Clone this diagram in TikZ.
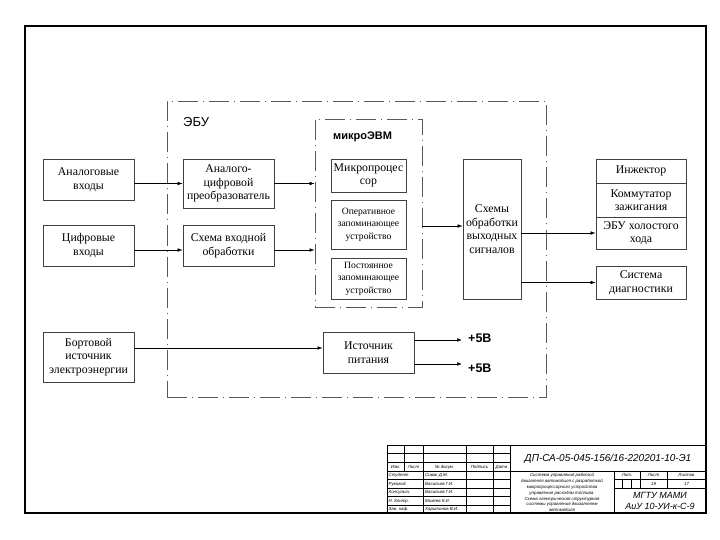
\documentclass[tikz,border=0pt]{standalone}
\usepackage{fontspec}
\setmainfont{Liberation Serif}
\setsansfont{Liberation Sans}
\usetikzlibrary{arrows.meta}
\begin{document}
\begin{tikzpicture}[x=1pt,y=-1pt,
  box/.style={draw=black!75, line width=0.8pt, align=center, inner sep=0pt,
    font=\fontsize{11.8}{13.5}\selectfont},
  smallbox/.style={box, font=\fontsize{9.6}{12.5}\selectfont},
  dashbox/.style={draw=black!65, line width=0.8pt, inner sep=0pt,
    dash pattern=on 20pt off 5pt on 1pt off 5pt},
  arr/.style={line width=0.6pt, -{Latex[length=5pt,width=3.6pt]}},
  tiny/.style={font=\fontsize{4.4}{5.6}\selectfont\sffamily\itshape, inner sep=0pt},
  tl/.style={line width=0.7pt}
]
\useasboundingbox (0,0) rectangle (720,540);
% page frame
\draw[line width=1.1pt] (25,26) rectangle (706,513);

% dashed containers
\node[dashbox, minimum width=379pt, minimum height=296pt] (ebu) at (356.5,249.5) {};
\node[dashbox, minimum width=107pt, minimum height=188pt] (mevm) at (368.5,213) {};
\node[font=\fontsize{13}{15}\sffamily, anchor=west, inner sep=0pt] (ebulbl) at (183,122) {ЭБУ};
\node[font=\fontsize{11}{13}\sffamily\bfseries, anchor=west, inner sep=0pt] (mevmlbl) at (333,137) {микроЭВМ};

% blocks
\node[box, minimum width=91pt, minimum height=41pt] (ain) at (88.5,179.5) {Аналоговые\\входы};
\node[box, minimum width=91pt, minimum height=41pt] (din) at (88.5,245.5) {Цифровые\\входы};
\node[box, minimum width=91pt, minimum height=50pt] (bort) at (88.5,357) {Бортовой\\источник\\электроэнергии};
\node[box, minimum width=91pt, minimum height=49pt] (adc) at (228.5,183.5) {Аналого-\\цифровой\\преобразователь};
\node[box, minimum width=91pt, minimum height=41pt] (inp) at (228.5,245.5) {Схема входной\\обработки};
\node[box, minimum width=75pt, minimum height=33pt] (cpu) at (368.5,175.5) {Микропроцес\\сор};
\node[smallbox, minimum width=75pt, minimum height=49pt] (ram) at (368.5,224.5) {Оперативное\\запоминающее\\устройство};
\node[smallbox, minimum width=75pt, minimum height=41pt] (rom) at (368.5,278.5) {Постоянное\\запоминающее\\устройство};
\node[box, minimum width=58pt, minimum height=140pt] (out) at (492,229) {Схемы\\обработки\\выходных\\сигналов};
\node[box, minimum width=91pt, minimum height=41pt] (pwr) at (368.5,352.5) {Источник\\питания};
\node[box, minimum width=90pt, minimum height=24pt] (inj) at (641,171) {Инжектор};
\node[box, minimum width=90pt, minimum height=34pt] (kom) at (641,200) {Коммутатор\\зажигания};
\node[box, minimum width=90pt, minimum height=32pt] (xx) at (641,233) {ЭБУ холостого\\хода};
\node[box, minimum width=90pt, minimum height=33pt] (diag) at (641,282.5) {Система\\диагностики};

% connectors
\draw[arr] (ain.east |- adc.west) -- (adc.west);
\draw[arr] ([yshift=-4.5pt]din.east) -- ([yshift=-4.5pt]inp.west);
\draw[arr] (adc.east) -- (adc.east -| mevm.west);
\draw[arr] ([yshift=-4.5pt]inp.east) -- ([yshift=-4.5pt]inp.east -| mevm.west);
\draw[arr] ([yshift=-13pt]mevm.east) -- ([yshift=-13pt]mevm.east -| out.west);
\draw[arr] (out.east |- xx.west) -- (xx.west);
\draw[arr] (out.east |- diag.west) -- (diag.west);
\draw[arr] ([yshift=4.5pt]bort.east |- pwr.west) -- ([yshift=4.5pt]pwr.west);
\coordinate (p1) at (462,340);
\coordinate (p2) at (462,364);
\draw[arr] (pwr.east |- p1) -- (p1);
\draw[arr] (pwr.east |- p2) -- (p2);
\node[font=\fontsize{12.5}{14}\sffamily\bfseries, anchor=west, inner sep=0pt] (v1) at (468,338) {+5В};
\node[font=\fontsize{12.5}{14}\sffamily\bfseries, anchor=west, inner sep=0pt] (v2) at (468,368) {+5В};

% title block
\draw[tl] (387,445) -- (706,445);
\foreach \x in {387,423,466,493,510} \draw[tl] (\x,445) -- (\x,513);
\draw[tl] (404,445) -- (404,471);
\foreach \y in {453.5,462,471,479.5,488,496.5,505} \draw[tl] (387,\y) -- (510,\y);
\draw[tl] (510,471) -- (706,471);
\draw[tl] (614,471) -- (614,513);
\draw[tl] (614,479.5) -- (706,479.5);
\draw[tl] (614,488) -- (706,488);
\draw[tl] (640,471) -- (640,488);
\draw[tl] (667,471) -- (667,488);
\draw[tl] (622.5,479.5) -- (622.5,488);
\draw[tl] (631,479.5) -- (631,488);

\node[tiny] (h1) at (395.5,467) {Изм.};
\node[tiny] (h2) at (413.5,467) {Лист};
\node[tiny] (h3) at (444.5,467) {№ докум.};
\node[tiny] (h4) at (479.5,467) {Подпись};
\node[tiny] (h5) at (501.5,467) {Дата};
\node[tiny, anchor=west] (r1) at (388.5,475.5) {Студент};
\node[tiny, anchor=west] (r2) at (388.5,484) {Руковод.};
\node[tiny, anchor=west] (r3) at (388.5,492.5) {Консульт.};
\node[tiny, anchor=west] (r4) at (388.5,501) {Н. Контр.};
\node[tiny, anchor=west] (r5) at (388.5,509.5) {Зав. каф.};
\node[tiny, anchor=west] (n1) at (425,475.5) {Сивак Д.М.};
\node[tiny, anchor=west] (n2) at (425,484) {Васильев Г.И.};
\node[tiny, anchor=west] (n3) at (425,492.5) {Васильев Г.И.};
\node[tiny, anchor=west] (n4) at (425,501) {Михеев К.И.};
\node[tiny, anchor=west] (n5) at (425,509.5) {Харитонов В.И.};
\node[font=\fontsize{10}{12}\sffamily\itshape, inner sep=0pt] (code) at (608,458.5) {ДП-СА-05-045-156/16-220201-10-Э1};
\node[tiny, align=center, font=\fontsize{4.4}{5.9}\sffamily\itshape] (desc) at (562,492.5)
  {Система управления работой\\двигателя автомобиля с разработкой\\микропроцессорного устройства\\управления расходом топлива.\\Схема электрическая структурная\\системы управления двигателем\\автомобиля};
\node[tiny] (l1) at (627,475.5) {Лит.};
\node[tiny] (l2) at (653.5,475.5) {Лист};
\node[tiny] (l3) at (686.5,475.5) {Листов};
\node[tiny] (l4) at (653.5,484) {19};
\node[tiny] (l5) at (686.5,484) {17};
\node[font=\fontsize{9}{11}\sffamily\itshape, align=center, inner sep=0pt] (org) at (660,500.5) {МГТУ МАМИ\\АиУ 10-УИ-к-С-9};
\end{tikzpicture}
\end{document}
